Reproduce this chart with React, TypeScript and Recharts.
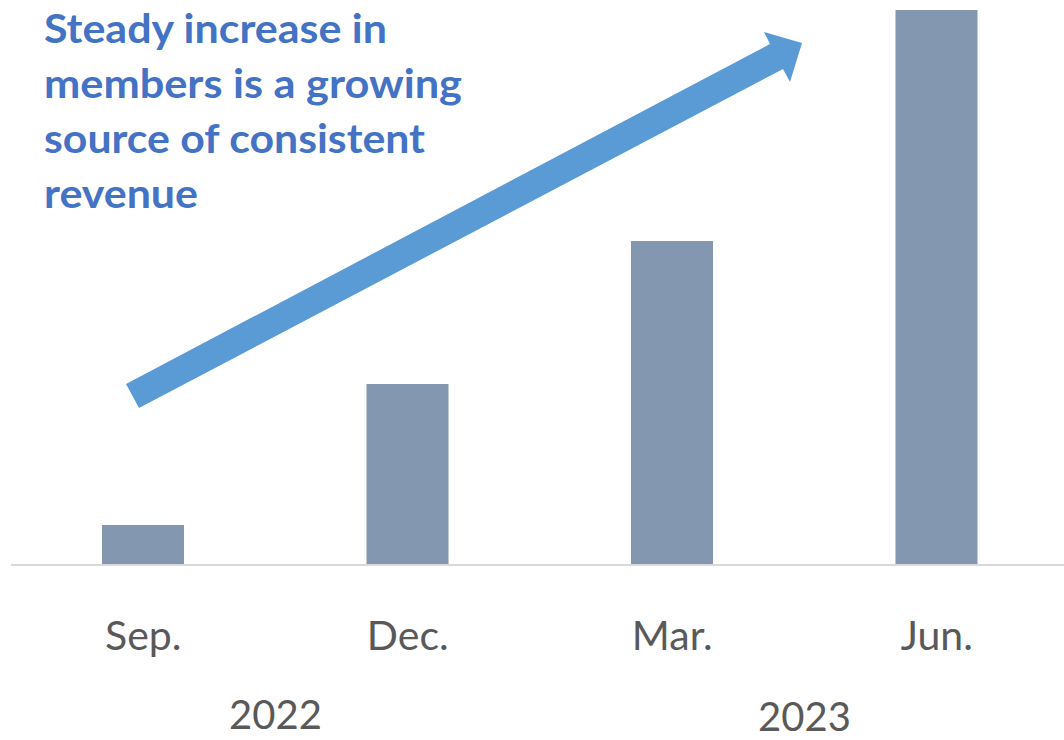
import React from 'react';
import { BarChart, Bar, XAxis, YAxis } from 'recharts';

// quarter labels and member counts (relative units)
const months = ['Sep.', 'Dec.', 'Mar.', 'Jun.'];
const monthYears = ['2022', '2022', '2023', '2023'];
const members = [40, 181, 324, 555];
const years = ['2022', '2023'];

const noteLines = ['Steady increase in', 'members is a growing', 'source of consistent', 'revenue'];
const noteWidths = [343, 418, 381, 154];

const data = months.map((m, i) => ({ month: m, idx: i, members: members[i] }));

// each year label sits in the middle of its months
const yearTicks = years.map((y) => {
    const idxs = monthYears.map((my, i) => (my === y ? i : -1)).filter((i) => i >= 0);
    return idxs.reduce((a, b) => a + b, 0) / idxs.length;
});

const FONT = 'Lato, "Open Sans", sans-serif';

const MonthTick = (props: any) => {
    const { x, y, payload } = props;
    return (
        <text x={x} y={y} dy="0.71em" textAnchor="middle" fill="#595959" fontSize={41} fontFamily={FONT}>
            {payload.value}
        </text>
    );
};

const YearTick = (props: any) => {
    const { x, y, payload, index } = props;
    const label = years[yearTicks.indexOf(payload.value)] ?? '';
    return (
        <text
            x={x}
            y={y + (index === 1 ? 2 : 0)}
            dy="0.71em"
            textAnchor="middle"
            fill="#595959"
            fontSize={40}
            fontFamily={FONT}
        >
            {label}
        </text>
    );
};

const App = () => {
    return (
        <div
            style={{
                position: 'absolute',
                left: 0,
                top: 0,
                width: 1064,
                height: 740,
                overflow: 'hidden',
                background: '#fff',
            }}
        >
            <BarChart width={1070} height={740} data={data} margin={{ top: 5, right: 1, left: 11, bottom: 0 }}>
                <YAxis hide domain={[0, 560]} />
                <XAxis
                    dataKey="month"
                    height={120}
                    tickLine={false}
                    tickSize={0}
                    tickMargin={56}
                    axisLine={{ stroke: '#D9D9D9', strokeWidth: 2 }}
                    tick={<MonthTick />}
                    interval={0}
                />
                <XAxis
                    xAxisId="year"
                    dataKey="idx"
                    type="number"
                    domain={[-0.5, months.length - 0.5]}
                    allowDataOverflow
                    ticks={yearTicks}
                    height={55}
                    tickLine={false}
                    tickSize={0}
                    tickMargin={16}
                    axisLine={false}
                    tick={<YearTick />}
                    interval={0}
                />
                <Bar dataKey="members" fill="#8497B0" barSize={82} isAnimationActive={false} />
            </BarChart>
            <svg
                width={1064}
                height={740}
                style={{ position: 'absolute', left: 0, top: 0, pointerEvents: 'none' }}
            >
                <polygon
                    points="126,384 770,44 764,32 802,43 790,82 783,69 139,408"
                    fill="#5B9BD5"
                />
                {noteLines.map((line, i) => (
                    <text
                        key={line}
                        x={44}
                        y={43 + i * 55}
                        fill="#4472C4"
                        fontSize={41}
                        fontWeight={700}
                        fontFamily={FONT}
                        textLength={noteWidths[i]}
                        lengthAdjust="spacingAndGlyphs"
                    >
                        {line}
                    </text>
                ))}
            </svg>
        </div>
    );
};

export default App;
